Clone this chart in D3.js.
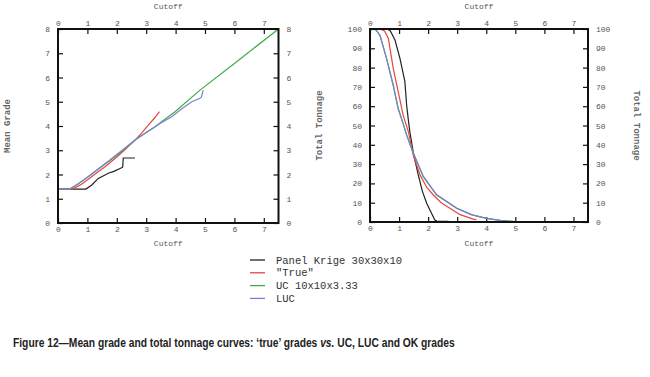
<!DOCTYPE html>
<html>
<head>
<meta charset="utf-8">
<script src="https://cdn.jsdelivr.net/npm/d3@7"></script>
<style>
  body { margin: 0; background: #fff; }
  svg { display: block; }
  .tick text { font-family: "Liberation Mono", "DejaVu Sans Mono", monospace; font-size: 8px; fill: #555; }
  .tick line { stroke: #111; stroke-width: 1.2; }
</style>
</head>
<body>
<svg id="chart" width="650" height="377"></svg>
<script>
// ---- data ----
let cutoffTicks = [0, 1, 2, 3, 4, 5, 6, 7]
let gradeTicks = [0, 1, 2, 3, 4, 5, 6, 7, 8]
let tonnageTicks = [0, 10, 20, 30, 40, 50, 60, 70, 80, 90, 100]

// mean grade vs cutoff
let gradeKrige = [[0, 1.4], [0.95, 1.4], [1.15, 1.57], [1.37, 1.84], [1.55, 1.95], [1.71, 2.05], [1.9, 2.13],
  [2.11, 2.25], [2.2, 2.3], [2.22, 2.68], [2.62, 2.68]]
let gradeTrue = [[0, 1.4], [0.5, 1.4], [0.8, 1.6], [1.03, 1.8], [1.3, 2.05], [1.6, 2.32], [2.0, 2.72],
  [2.3, 3.05], [2.62, 3.42], [2.85, 3.72], [3.07, 4.04], [3.3, 4.35], [3.45, 4.59]]
let gradeUC = [[0, 1.4], [0.4, 1.4], [0.7, 1.62], [1.03, 1.91], [1.4, 2.25], [1.71, 2.53], [2.2, 2.98],
  [2.62, 3.42], [3.0, 3.73], [3.3, 3.97], [3.98, 4.59], [4.83, 5.48], [6.0, 6.58], [7.5, 8.0]]
let gradeLUC = [[0, 1.4], [0.4, 1.4], [0.7, 1.63], [1.03, 1.92], [1.71, 2.55], [2.62, 3.42], [2.9, 3.65],
  [3.19, 3.88], [3.5, 4.12], [3.87, 4.38], [4.2, 4.7], [4.55, 5.0], [4.83, 5.14], [4.88, 5.2], [4.94, 5.48]]

// total tonnage vs cutoff
let tonKrige = [[0, 100], [0.6, 100], [0.7, 99], [0.86, 94.3], [1.03, 84.8], [1.2, 72.7], [1.26, 60.6],
  [1.32, 52.8], [1.37, 46.8], [1.5, 35], [1.66, 24.4], [1.8, 16], [1.95, 9.7], [2.1, 5], [2.23, 1],
  [2.3, 0.5], [2.7, 0.4]]
let tonTrue = [[0, 100], [0.34, 100], [0.5, 99], [0.63, 95.2], [0.8, 79.6], [0.97, 67.5], [1.14, 55.4],
  [1.32, 46.8], [1.49, 34.5], [1.72, 24.4], [1.95, 18], [2.18, 14], [2.45, 10], [2.75, 7.1],
  [3.1, 3.8], [3.55, 1.5], [3.66, 1.2]]
let tonUC = [[0, 100], [0.17, 100], [0.34, 96.9], [0.57, 84.8], [0.8, 71], [0.97, 59], [1.14, 51],
  [1.26, 45], [1.49, 35.6], [1.83, 23.5], [2.29, 14], [2.98, 7.1], [3.5, 3.7], [4.01, 1.9],
  [4.5, 0.8], [5.04, 0.2], [5.84, 0]]
let tonLUC = [[0, 100], [0.2, 100], [0.36, 96], [0.58, 84], [0.8, 70.5], [0.97, 58.5], [1.14, 51],
  [1.26, 45.2], [1.49, 35.8], [1.83, 23.8], [2.29, 14.2], [2.98, 7.2], [3.5, 3.8], [4.01, 1.9],
  [4.5, 0.7], [5.0, 0.2]]

let legendNames = ["Panel Krige 30x30x10", "\"True\"", "UC 10x10x3.33", "LUC"]
let colors = ["#222222", "#e8453c", "#3faa48", "#7d80d6"]

let mono = "'Liberation Mono', 'DejaVu Sans Mono', monospace"
let svg = d3.select("#chart")

function panel(opt) {
    let x = d3.scaleLinear().domain([0, 7.5]).range([opt.left, opt.right])
    let y = d3.scaleLinear().domain([0, opt.ymax]).range([opt.bottom, opt.top])
    let g = svg.append("g")

    // ticks pointing inwards on all four sides
    g.append("g").attr("transform", "translate(0," + opt.bottom + ")")
        .call(d3.axisBottom(x).tickValues(cutoffTicks).tickSize(-5).tickPadding(3))
    g.append("g").attr("transform", "translate(0," + opt.top + ")")
        .call(d3.axisTop(x).tickValues(cutoffTicks).tickSize(-5).tickPadding(3))
    g.append("g").attr("transform", "translate(" + opt.left + ",0)")
        .call(d3.axisLeft(y).tickValues(opt.yticks).tickSize(-5).tickPadding(8))
    g.append("g").attr("transform", "translate(" + opt.right + ",0)")
        .call(d3.axisRight(y).tickValues(opt.yticks).tickSize(-5).tickPadding(8))
    g.selectAll(".domain").remove()

    let line = d3.line().x(d => x(d[0])).y(d => y(d[1]))
    opt.series.forEach((s, i) => {
        g.append("path").datum(s)
            .attr("d", line)
            .attr("fill", "none")
            .attr("stroke", colors[i])
            .attr("stroke-width", 1.2)
    })

    g.append("rect")
        .attr("x", opt.left).attr("y", opt.top)
        .attr("width", opt.right - opt.left).attr("height", opt.bottom - opt.top)
        .attr("fill", "none").attr("stroke", "#111").attr("stroke-width", 2)

    let mid = (opt.left + opt.right) / 2
    g.append("text").attr("x", mid).attr("y", 9)
        .attr("text-anchor", "middle").style("font-family", mono).style("font-size", "8px")
        .attr("fill", "#555").text("Cutoff")
    g.append("text").attr("x", mid).attr("y", 246)
        .attr("text-anchor", "middle").style("font-family", mono).style("font-size", "8px")
        .attr("fill", "#555").text("Cutoff")

    let cy = (opt.top + opt.bottom) / 2
    g.append("text")
        .attr("transform", "translate(" + opt.labelL + "," + cy + ") rotate(-90)")
        .attr("text-anchor", "middle").style("font-family", mono).style("font-size", "9px")
        .style("font-weight", "bold").attr("fill", "#666").text(opt.label)
    if (opt.labelR) {
        g.append("text")
            .attr("transform", "translate(" + opt.labelR + "," + cy + ") rotate(90)")
            .attr("text-anchor", "middle").style("font-family", mono).style("font-size", "9px")
            .style("font-weight", "bold").attr("fill", "#666").text(opt.label)
    }
}

panel({
    left: 58, right: 278.5, top: 29, bottom: 223, ymax: 8, yticks: gradeTicks,
    series: [gradeKrige, gradeTrue, gradeUC, gradeLUC], label: "Mean Grade", labelL: 10
})
panel({
    left: 370, right: 588, top: 29, bottom: 222, ymax: 100, yticks: tonnageTicks,
    series: [tonKrige, tonTrue, tonUC, tonLUC], label: "Total Tonnage", labelL: 322, labelR: 634
})

// legend
let legend = svg.append("g")
legendNames.forEach((name, i) => {
    let ly = 260 + i * 12.8
    legend.append("line").attr("x1", 250).attr("x2", 265).attr("y1", ly).attr("y2", ly)
        .attr("stroke", colors[i]).attr("stroke-width", 1.3)
    legend.append("text").attr("x", 276).attr("y", ly + 3.5)
        .style("font-family", mono).style("font-size", "10.5px").attr("fill", "#333").text(name)
})

// caption, squeezed horizontally to look like a condensed face
let cap = svg.append("text")
    .style("font-family", "'Liberation Sans', Arial, sans-serif")
    .style("font-size", "13px").style("font-weight", "bold").attr("fill", "#222")
cap.append("tspan").text("Figure 12\u2014Mean grade and total tonnage curves: \u2018true\u2019 grades ")
cap.append("tspan").style("font-style", "italic").text("vs.")
cap.append("tspan").text(" UC, LUC and OK grades")
let capW = cap.node().getComputedTextLength()
cap.attr("transform", "translate(13,347) scale(" + (442 / capW) + ",1)")
</script>
</body>
</html>
